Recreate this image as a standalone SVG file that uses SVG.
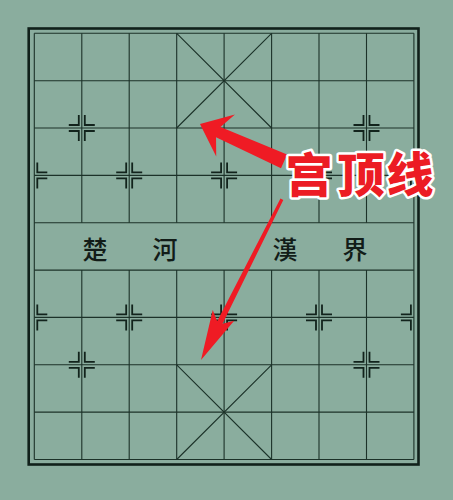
<svg xmlns="http://www.w3.org/2000/svg" width="453" height="500" viewBox="0 0 453 500">
<style>
.grid{stroke:#1c3229;stroke-width:1.1;fill:none}
.border{stroke:#10201a;stroke-width:2.6;fill:none}
.mk{stroke:#12231c;stroke-width:1.8;fill:none}
.river{font-family:"Noto Sans CJK TC","Noto Sans CJK SC",sans-serif;font-size:25px;font-weight:500;fill:#121c18;text-anchor:middle;dominant-baseline:central}
.arrow{fill:#ef1b24}
.label{font-family:"Noto Sans CJK SC",sans-serif;font-size:47px;font-weight:900;fill:#ec1c24;stroke:#ffffff;stroke-width:5;stroke-linejoin:round;paint-order:stroke;text-anchor:middle;dominant-baseline:central}
</style>
<defs>
<path id="mk" class="mk" d="M3,-13V-3H13M3,13V3H13M-3,-13V-3H-13M-3,13V3H-13"/>
<path id="mkr" class="mk" d="M3,-13V-3H13M3,13V3H13"/>
<path id="mkl" class="mk" d="M-3,-13V-3H-13M-3,13V3H-13"/>
</defs>
<rect x="0" y="0" width="453" height="500" fill="#8aad9e"/>
<g id="board">
<rect class="border" x="28.7" y="28.5" width="389.8" height="436"/>
<g class="grid">
<path d="M34.3,33.3H413.9M34.3,80.7H413.9M34.3,128H413.9M34.3,175.4H413.9M34.3,222.7H413.9M34.3,270.1H413.9M34.3,317.4H413.9M34.3,364.8H413.9M34.3,412.1H413.9M34.3,459.5H413.9"/>
<path d="M34.3,33.3V459.5M413.9,33.3V459.5"/>
<path d="M81.8,33.3V222.7M129.2,33.3V222.7M176.7,33.3V222.7M224.1,33.3V222.7M271.6,33.3V222.7M319,33.3V222.7M366.5,33.3V222.7"/>
<path d="M81.8,270.1V459.5M129.2,270.1V459.5M176.7,270.1V459.5M224.1,270.1V459.5M271.6,270.1V459.5M319,270.1V459.5M366.5,270.1V459.5"/>
<path d="M176.7,33.3L271.6,128M271.6,33.3L176.7,128M176.7,364.8L271.6,459.5M271.6,364.8L176.7,459.5"/>
</g>
</g>
<g id="markers">
<use href="#mk" x="81.8" y="128"/>
<use href="#mk" x="366.5" y="128"/>
<use href="#mkr" x="34.3" y="175.4"/>
<use href="#mk" x="129.2" y="175.4"/>
<use href="#mk" x="224.1" y="175.4"/>
<use href="#mk" x="319" y="175.4"/>
<use href="#mkl" x="413.9" y="175.4"/>
<use href="#mkr" x="34.3" y="317.4"/>
<use href="#mk" x="129.2" y="317.4"/>
<use href="#mk" x="224.1" y="317.4"/>
<use href="#mk" x="319" y="317.4"/>
<use href="#mkl" x="413.9" y="317.4"/>
<use href="#mk" x="81.8" y="364.8"/>
<use href="#mk" x="366.5" y="364.8"/>
</g>
<g id="river">
<text class="river" x="95" y="248">楚</text>
<text class="river" x="165" y="248">河</text>
<text class="river" x="285" y="248">漢</text>
<text class="river" x="355" y="248">界</text>
</g>
<g id="connectors">
<polygon class="arrow" transform="translate(200,124) rotate(204)" points="0,0 -28,-23 -20,-5.5 -92,-7.5 -92,7.5 -20,5.5 -28,23"/>
<polygon class="arrow" transform="translate(201,360) rotate(116.7)" points="0,0 -50,-12 -42,-3 -180,-1.6 -180,1.6 -42,3 -50,12"/>
</g>
<g id="label">
<text class="label" x="309" y="171">宫</text>
<text class="label" x="361" y="171">顶</text>
<text class="label" x="410" y="171">线</text>
</g>
</svg>
